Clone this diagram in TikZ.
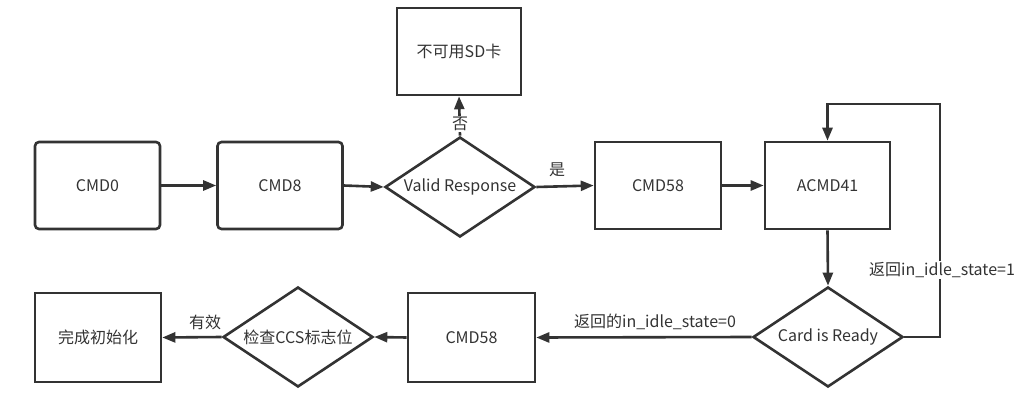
\documentclass[tikz,border=0pt]{standalone}
\usepackage{fontspec}
\setmainfont{Noto Sans CJK SC}
\usetikzlibrary{shapes.geometric,arrows.meta,calc}
\definecolor{ink}{HTML}{333333}
\begin{document}
\begin{tikzpicture}[x=1pt,y=-1pt,
  font=\fontsize{16}{19}\selectfont,
  every node/.style={text=ink},
  box/.style={draw=ink, line width=2.6pt, rectangle, minimum width=125pt, minimum height=87pt, inner sep=0pt},
  rbox/.style={box, rounded corners=4pt},
  dia/.style={draw=ink, line width=2.6pt, diamond, aspect=1.5, minimum width=150pt, minimum height=100pt, inner sep=0pt},
  arr/.style={draw=ink, line width=2.6pt, -{Triangle[length=13pt,width=10pt]}},
  lab/.style={fill=white, inner sep=1pt}
]
\useasboundingbox (0,0) rectangle (1019,411);
\node[rbox] (cmd0) at (97.5,185.5) {CMD0};
\node[rbox] (cmd8) at (280,185.5) {CMD8};
\node[dia] (valid) at (460,187) {Valid Response};
\node[box, minimum width=124pt] (nosd) at (459,51.5) {不可用SD卡};
\node[box, minimum width=126pt] (cmd58a) at (658,185.5) {CMD58};
\node[box] (acmd41) at (827.5,185.5) {ACMD41};
\node[dia] (ready) at (828,337) {Card is Ready};
\node[box, minimum width=127pt, minimum height=89pt] (cmd58b) at (471.5,337.5) {CMD58};
\node[dia] (ccs) at (298,337) {检查CCS标志位};
\node[box, minimum width=126pt, minimum height=89pt] (done) at (98,337.5) {完成初始化};
\coordinate (loopR) at (940,104);

\draw[arr] (cmd0.east) -- (cmd8.west);
\draw[arr] (cmd8.east) -- (valid.west);
\draw[arr] (valid.east) -- (cmd58a.west);
\node (yes) at (557,170) {是};
\draw[arr] (valid.north) -- (nosd.south);
\node[lab] (no) at (460,124) {否};
\draw[arr] (cmd58a.east) -- (acmd41.west);
\draw[arr] (acmd41.south) -- (ready.north);
\draw[arr] (ready.east) -| (loopR) -| (acmd41.north);
\node[lab] (ret1) at (942,270) {返回in\_idle\_state=1};
\draw[arr] (ready.west) -- (cmd58b.east);
\node (ret0) at (655,322) {返回的in\_idle\_state=0};
\draw[arr] (cmd58b.west) -- (ccs.east);
\draw[arr] (ccs.west) -- (done.east);
\node (valid2) at (205,322) {有效};
\end{tikzpicture}
\end{document}
